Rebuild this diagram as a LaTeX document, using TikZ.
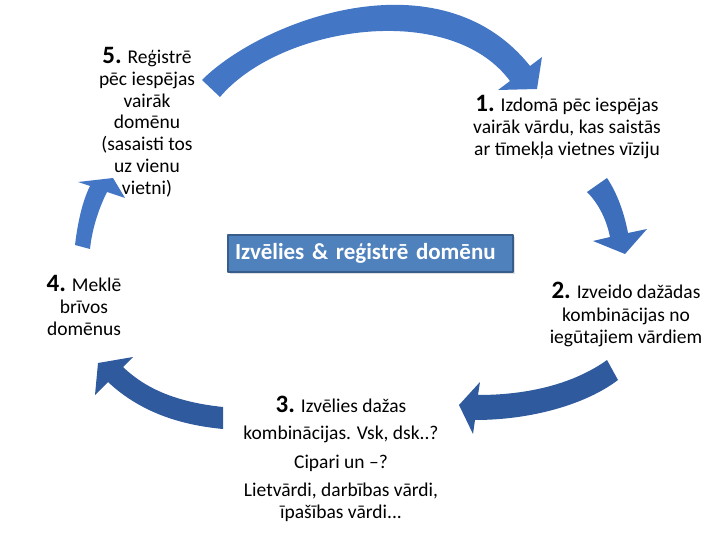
\documentclass[tikz,border=0pt]{standalone}
\usepackage{fontspec}
\setmainfont{Carlito}
\usetikzlibrary{shadows}

\newcommand{\stepnum}[1]{{\fontsize{25}{25}\selectfont\bfseries #1}}

\begin{document}
\begin{tikzpicture}[x=1pt, y=-1pt, line join=round]

    % --- Colors matching the slide ---
    \definecolor{arrowlight}{RGB}{68, 118, 198}
    \definecolor{arrowmid}{RGB}{60, 110, 188}
    \definecolor{arrowdark}{RGB}{47, 90, 158}
    \definecolor{boxfill}{RGB}{79, 129, 189}
    \definecolor{boxborder}{RGB}{56, 93, 138}

    \tikzset{
        steptext/.style={align=center, anchor=north, inner sep=0pt,
            font=\fontsize{19.5}{21.8}\selectfont},
        titlebox/.style={fill=boxfill, draw=boxborder, line width=1.5pt,
            text=white, font=\fontsize{23}{23}\selectfont\bfseries,
            text width=271pt, align=left, inner xsep=7pt, minimum height=37pt,
            drop shadow={opacity=0.25, shadow xshift=2pt, shadow yshift=-2pt}}
    }

    \useasboundingbox (0,0) rectangle (720,540);

    % --- 1. Curved block arrows ---
    % 5 -> 1 (top)
    \fill[arrowlight] (202,80) .. controls (262,20) and (440,-47) .. (530,66)
        -- (542,57) -- (537,89) -- (498,90) -- (510,81)
        .. controls (450,0) and (280,26) .. (220,97) -- cycle;

    % 1 -> 2 (right)
    \fill[arrowmid] (587,192) .. controls (600,205) and (607,222) .. (610,237)
        -- (593,241) -- (625,254) -- (647,229) -- (628,233)
        .. controls (624,212) and (617,193) .. (607,178) -- cycle;

    % 2 -> 3 (bottom right)
    \fill[arrowdark] (607,360) .. controls (575,383) and (530,395) .. (478,395)
        -- (480,382) -- (459,405) -- (473,434) -- (475,420)
        .. controls (530,420) and (585,405) .. (618,380) -- cycle;

    % 3 -> 4 (bottom left)
    \fill[arrowdark] (223,407) .. controls (175,402) and (145,388) .. (123,367)
        -- (133,357) -- (98,363) -- (95,395) -- (108,382)
        .. controls (140,412) and (180,425) .. (223,429) -- cycle;

    % 4 -> 5 (left)
    \fill[arrowlight] (75,245) .. controls (78,220) and (83,200) .. (90,186)
        -- (78,182) -- (113,178) -- (125,198) -- (107,192)
        .. controls (98,210) and (92,230) .. (90,249) -- cycle;

    % --- 2. Centre box ---
    \node[titlebox] (title) at (370.5,253.5) {Izvēlies \& reģistrē domēnu};

    % --- 3. Step texts ---
    \node[steptext] (step5) at (147,47) {\stepnum{5.} Reģistrē\\ pēc iespējas\\ vairāk\\ domēnu\\ (sasaisti tos\\ uz vienu\\ vietni)};
    \node[steptext] (step1) at (567,95) {\stepnum{1.} Izdomā pēc iespējas\\ vairāk vārdu, kas saistās\\ ar tīmekļa vietnes vīziju};
    \node[steptext] (step4) at (84,275) {\stepnum{4.} Meklē\\ brīvos\\ domēnus};
    \node[steptext] (step2) at (626,282) {\stepnum{2.} Izveido dažādas\\[1pt] kombinācijas no\\ iegūtajiem vārdiem};
    \node[steptext] (step3) at (341,396) {\stepnum{3.} Izvēlies dažas\\[5pt] kombinācijas. Vsk, dsk..?\\[7pt] Cipari un –?\\[7pt] Lietvārdi, darbības vārdi,\\ īpašības vārdi...};

\end{tikzpicture}
\end{document}
